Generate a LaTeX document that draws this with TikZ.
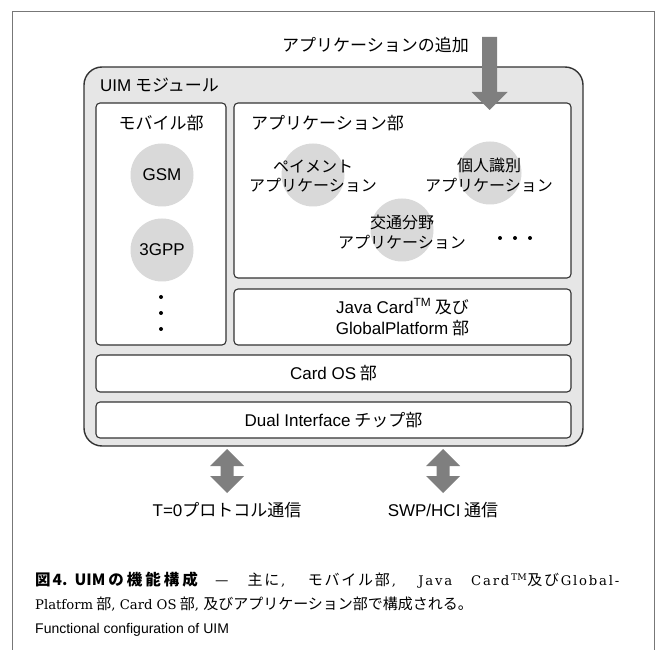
\documentclass[tikz,border=0pt]{standalone}
\usepackage{fontspec}
\setmainfont{Liberation Sans}
\newfontfamily\jp{Noto Sans CJK JP}
\newfontfamily\lat{Liberation Sans}
\newfontfamily\ser{DejaVu Serif}[Scale=0.88]
\definecolor{modfill}{HTML}{E6E6E6}
\definecolor{circfill}{HTML}{D9D9D9}
\definecolor{arrfill}{HTML}{7F7F7F}
\definecolor{edgecol}{HTML}{333333}
\definecolor{framecol}{HTML}{777777}
\newcommand{\jgap}{\hspace{0.22em}}
\newcommand{\lsp}[1]{\lspi#1\relax}
\def\lspi#1{\ifx#1\relax\else#1\kern1.8pt\expandafter\lspi\fi}
\tikzset{
  modbox/.style={rectangle, draw=edgecol, line width=1.4pt, fill=modfill, rounded corners=18pt, inner sep=0pt},
  partbox/.style={rectangle, draw=edgecol, line width=1.1pt, fill=white, rounded corners=4pt, inner sep=0pt},
  appcirc/.style={circle, fill=circfill, draw=none, inner sep=0pt, minimum size=63pt},
  dtxt/.style={font=\jp\fontsize{17}{21}\selectfont, inner sep=0pt, align=center},
  ctxt/.style={font=\jp\fontsize{16}{19.5}\selectfont, inner sep=0pt, align=center},
  dotmark/.style={circle, fill=black, draw=none, inner sep=0pt, minimum size=4pt},
  blockarrow/.style={fill=arrfill, draw=none},
  captxt/.style={inner sep=0pt, anchor=west, font=\fontsize{15}{18}\selectfont},
}
\begin{document}
\begin{tikzpicture}[x=1pt,y=-1pt]
\useasboundingbox (0,0) rectangle (657,650);
% outer frame
\draw[framecol, line width=0.8pt] (12,650) -- (12,11) -- (654,11) -- (654,650);

% module
\node[modbox, minimum width=499pt, minimum height=379pt] (module) at (333.5,256.5) {};
\node[dtxt, anchor=west] (modlabel) at (100,85) {{\lat UIM}\jgap モジュール};

% mobile part
\node[partbox, minimum width=130pt, minimum height=242pt] (mobile) at (161,224) {};
\node[dtxt] (mobilelabel) at (161,123) {モバイル部};
\node[appcirc] (gsm) at (162,175) {};
\node[dtxt] (gsmtxt) at (162,175) {\lat GSM};
\node[appcirc] (tgpp) at (162,250) {};
\node[dtxt] (tgpptxt) at (162,250) {\lat 3GPP};
\node[dotmark] (md1) at (161,297) {};
\node[dotmark] (md2) at (161,313) {};
\node[dotmark] (md3) at (161,329) {};

% application part
\node[partbox, minimum width=337pt, minimum height=175pt] (app) at (402.5,190.5) {};
\node[dtxt, anchor=west] (applabel) at (251,123) {アプリケーション部};
\node[appcirc] (payc) at (313,175) {};
\node[ctxt] (paytxt) at (313,176) {ペイメント\\アプリケーション};
\node[appcirc] (idc) at (490,173) {};
\node[ctxt] (idtxt) at (489,175) {個人識別\\アプリケーション};
\node[appcirc] (trc) at (402,230) {};
\node[ctxt] (trtxt) at (402,232) {交通分野\\アプリケーション};
\node[dotmark] (ad1) at (500,238) {};
\node[dotmark] (ad2) at (515,238) {};
\node[dotmark] (ad3) at (530,238) {};

% java card part
\node[partbox, minimum width=337pt, minimum height=56pt, dtxt] (java) at (402.5,317)
  {{\lat Java Card\textsuperscript{TM}}\jgap 及び\\{\lat GlobalPlatform}\jgap 部};
% card os
\node[partbox, minimum width=475pt, minimum height=37pt, dtxt] (cardos) at (333.5,373.5) {{\lat Card OS}\jgap 部};
% dual interface
\node[partbox, minimum width=475pt, minimum height=36pt, dtxt] (dual) at (333.5,420) {{\lat Dual Interface} チップ部};

% top arrow
\node[dtxt, anchor=east] (addlabel) at (469,45) {アプリケーションの追加};
\coordinate (addtop) at (489.5,37);
\fill[blockarrow] (addtop) ++(-7.5,0) -- ++(15,0) -- ++(0,55) -- ++(10.5,0) -- ++(-18,18) -- ++(-18,-18) -- ++(10.5,0) -- cycle;

% bottom double arrows
\coordinate (ta) at (227,449);
\coordinate (tb) at (443,449);
\foreach \c in {ta,tb}{
  \fill[blockarrow] (\c) -- ++(17,17) -- ++(-10.5,0) -- ++(0,10) -- ++(10.5,0) -- ++(-17,17)
     -- ++(-17,-17) -- ++(10.5,0) -- ++(0,-10) -- ++(-10.5,0) -- cycle;
}
\node[dtxt] (t0lbl) at (227,510) {{\lat T=0}プロトコル通信};
\node[dtxt] (swplbl) at (443,510) {{\lat SWP/HCI}\jgap 通信};

% caption
\node[captxt] (cap1) at (35,580) {\makebox[586pt][s]{{\jp\bfseries\fontsize{15.5}{18}\selectfont 図\hspace{2pt}4.\hspace{7pt}UIM\hspace{3pt}の\hspace{3pt}機\hspace{3pt}能\hspace{3pt}構\hspace{3pt}成} {\jp\lsp{—}} {\jp\lsp{主に}}{\ser\lsp{,}} {\jp\lsp{モバイル部}}{\ser\lsp{,}} {\ser\lsp{Java}} {\ser\lsp{Card}\textsuperscript{TM}}{\jp\lsp{及び}}{\ser\lsp{Global-}}}};
\node[captxt] (cap2) at (35,604) {{\ser Platform}\jgap{\jp 部}{\ser , Card OS}\jgap{\jp 部}{\ser ,} {\jp 及びアプリケーション部で構成される。}};
\node[captxt, font=\lat\fontsize{14}{17}\selectfont] (cap3) at (35,630) {Functional configuration of UIM};
\end{tikzpicture}
\end{document}
